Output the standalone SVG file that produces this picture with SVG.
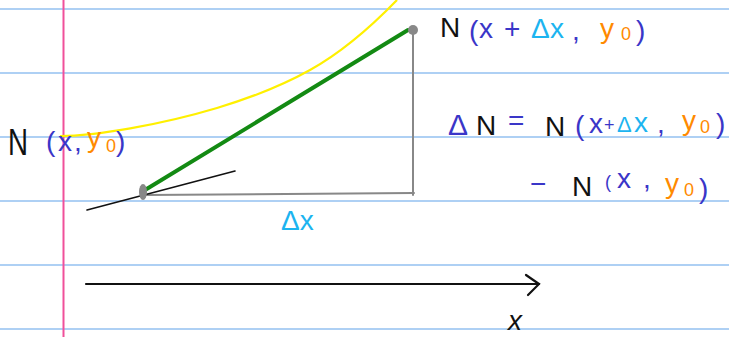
<svg xmlns="http://www.w3.org/2000/svg" width="729" height="337" viewBox="0 0 729 337">
<style>
text{font-family:"Liberation Sans","DejaVu Sans",sans-serif;}
.rule{stroke:#5fa2ea;stroke-width:1.2;}
.k{fill:#111;}
.b{fill:#3a36c8;}
.c{fill:#1cb4f0;}
.o{fill:#ff8a00;}
.t{font-size:28px;}
.m{font-size:22px;}
.s{font-size:18px;}
</style>
<rect width="729" height="337" fill="#fff"/>
<g id="paper">
<line class="rule" x1="0" y1="9" x2="729" y2="9"/>
<line class="rule" x1="0" y1="73" x2="729" y2="73"/>
<line class="rule" x1="0" y1="137" x2="729" y2="137"/>
<line class="rule" x1="0" y1="201" x2="729" y2="201"/>
<line class="rule" x1="0" y1="265" x2="729" y2="265"/>
<line class="rule" x1="0" y1="329" x2="729" y2="329"/>
<line x1="63.5" y1="0" x2="63.5" y2="337" stroke="#f0509a" stroke-width="2"/>
</g>
<g id="curve">
<path d="M60,136 C95,136 160,125 217,108 C260,95 285,84 310,70 C337,55 367,31 397,0" fill="none" stroke="#fff000" stroke-width="2.2"/>
</g>
<g id="connectors" fill="none" stroke-linecap="round">
<path d="M145,190 L408,30" stroke="#138a13" stroke-width="4"/>
<path d="M413,30 L413,195" stroke="#888" stroke-width="2"/>
<path d="M145,195 L414,193" stroke="#888" stroke-width="2"/>
<path d="M87,210 L235,171" stroke="#111" stroke-width="1.6"/>
<path d="M86,284 L539,284" stroke="#111" stroke-width="2.2"/>
<path d="M526,275 L539,284 L528,295" stroke="#111" stroke-width="2.2"/>
</g>
<g id="point-a">
<ellipse cx="143" cy="192" rx="4" ry="8" fill="#888"/>
<text class="k" x="8" y="155" textLength="20" lengthAdjust="spacingAndGlyphs" style="font-size:36px">N</text>
<text class="t b" x="46" y="151">(</text>
<text class="t b" x="58" y="151">x</text>
<text class="t b" x="74" y="151">,</text>
<text class="t o" x="87" y="147">y</text>
<text class="s o" x="106" y="152">0</text>
<text class="t b" x="116" y="151">)</text>
</g>
<g id="point-b">
<circle cx="413" cy="30" r="5" fill="#888"/>
<text class="t k" x="440" y="37">N</text>
<text class="t b" x="469" y="40">(</text>
<text class="t b" x="479" y="38">x</text>
<text class="t b" x="504" y="38">+</text>
<text class="t c" x="531" y="38">Δ</text>
<text class="t c" x="550" y="38">x</text>
<text class="t b" x="572" y="40">,</text>
<text class="t o" x="600" y="38">y</text>
<text class="s o" x="621" y="40">0</text>
<text class="t b" x="636" y="40">)</text>
</g>
<g id="delta-n">
<text class="b" x="448" y="135" style="font-size:30px">Δ</text>
<text class="t k" x="476" y="135">N</text>
<text class="t b" x="508" y="130">=</text>
<text class="t k" x="545" y="136">N</text>
<text class="t b" x="575" y="135">(</text>
<text class="t b" x="589" y="133">x</text>
<text class="s b" x="604" y="131">+</text>
<text class="m c" x="617" y="132">Δ</text>
<text class="t c" x="634" y="132">x</text>
<text class="t b" x="657" y="133">,</text>
<text class="t o" x="682" y="130">y</text>
<text class="s o" x="700" y="133">0</text>
<text class="t b" x="716" y="133">)</text>
</g>
<g id="minus-term">
<text class="t b" x="530" y="193">−</text>
<text class="t k" x="572" y="196">N</text>
<text class="s b" x="605" y="188">(</text>
<text class="t b" x="617" y="188">x</text>
<text class="t b" x="643" y="188">,</text>
<text class="t o" x="665" y="193">y</text>
<text class="s o" x="684" y="196">0</text>
<text class="t b" x="699" y="198">)</text>
</g>
<g id="dx-label">
<text class="t c" x="281" y="230">Δx</text>
</g>
<g id="axis-label">
<text class="t k" x="508" y="330" font-style="italic">x</text>
</g>
</svg>
